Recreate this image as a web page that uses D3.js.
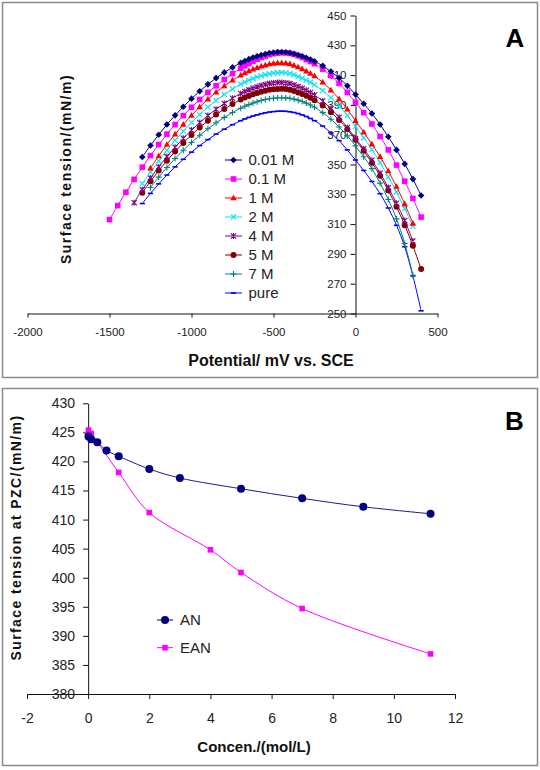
<!DOCTYPE html>
<html><head><meta charset="utf-8">
<script src="https://cdn.jsdelivr.net/npm/d3@7/dist/d3.min.js"></script>
<style>
body{margin:0;background:#fff}
svg{display:block}
text{font-family:"Liberation Sans",Arial,Helvetica,sans-serif}
</style>
</head><body>
<svg id="c" width="540" height="770"></svg>
<script>
// ---------- Panel A data (potential, mV vs SCE) ----------
const potentials = [-1500,-1450,-1400,-1350,-1300,-1250,-1200,-1150,-1100,-1050,-1000,-950,-900,-850,-800,-750,-700,
  -675,-650,-625,-600,-575,-550,-525,-500,-475,-450,-425,-400,-375,-350,-325,-300,-275,-250,
  -200,-150,-100,-50,0,50,100,150,200,250,300,350,400];
const seriesNames = ["0.01 M","0.1 M","1 M","2 M","4 M","5 M","7 M","pure"];
const s001 = [null,null,null,null,355,362.8,370,376.8,383,388.8,394.2,399.2,403.8,408,411.8,415.2,418.2,
  419.5,420.7,421.8,422.7,423.5,424.2,424.8,425.2,425.45,425.5,425.35,425,424.35,423.5,422.65,421.6,420.5,419.2,
  416.2,412.4,408,402.8,397,390.8,384.2,376.8,368.6,359.8,350.4,340.2,329.2];
const s01 = [313,322.4,331.4,340,348.2,356,363.4,370.4,376.8,382.8,388.4,393.6,398.4,402.8,407,411,414.6,
  416.3,417.8,419.3,420.6,421.8,422.8,423.7,424.3,424.75,425,424.9,424.6,423.9,423,421.8,420.4,419.1,417.6,
  414,409.6,404.4,398.4,391.7,384.8,377.2,368.8,359.8,349.6,338.8,327.2,314.7];
const s1 = [null,null,null,null,null,347.6,355.7,363.4,370.3,376.9,383,388.6,393.8,398.5,402.8,406.6,410,
  411.5,412.8,414,415,415.95,416.7,417.4,417.9,418.15,418.2,417.95,417.5,416.55,415.4,414.15,412.7,411.15,409.4,
  405.2,399.9,394,387.1,379.4,371.7,363.7,355.2,345.6,335.2,323.6,310.5,null];
const s2 = [null,null,null,null,337.2,345,352.3,359.6,366.2,372.4,378.2,383.6,388.5,393,397,400.7,403.9,
  405.35,406.6,407.75,408.7,409.6,410.3,410.95,411.4,411.65,411.7,411.5,411.1,410.2,409.1,407.95,406.6,405.15,403.5,
  399.6,394.8,389.3,382.9,375.5,368,360.1,351.3,341.7,331.5,320.4,308.5,null];
const s4 = [null,null,null,324.4,333.1,341,348.4,355.3,361.6,367.6,373.1,378.2,382.9,387.1,391,394.5,397.6,
  398.95,400.1,401.2,402.1,403,403.7,404.3,404.7,404.95,405,404.75,404.3,403.4,402.3,401.15,399.8,398.3,396.6,
  392.6,387.6,381.7,374.8,367.5,360.6,352.8,344.2,334.5,324,312.4,298.6,null];
const s5 = [null,null,null,null,331,338.7,345.9,352.6,358.7,364.5,369.8,374.8,379.3,383.5,387.2,390.6,393.6,
  394.9,396,397.1,398,398.85,399.5,400.1,400.5,400.75,400.8,400.6,400.2,399.4,398.4,397.35,396.1,394.75,393.2,
  389.6,385.1,379.8,373.6,366.6,359.2,351.2,342.4,332.5,321.6,309.3,295.4,279.8];
const s7 = [null,null,null,null,null,334.6,341.5,348,354,359.6,364.8,369.6,374,378,381.6,384.9,387.8,
  389.1,390.2,391.25,392.1,392.95,393.6,394.15,394.5,394.75,394.8,394.7,394.4,393.9,393.2,392.3,391.2,389.9,388.4,
  384.8,380.4,375.2,369.2,362.5,355.2,347.2,337.5,326.5,313.5,297,275.7,null];
const sPure = [null,null,null,null,323.8,330.6,337,342.9,348.4,353.5,358.3,362.7,366.7,370.4,373.7,376.7,379.4,
  380.6,381.6,382.55,383.3,384.1,384.7,385.2,385.5,385.75,385.8,385.7,385.4,384.9,384.2,383.3,382.2,380.9,379.4,
  375.8,371.2,366,359.8,353,346,338.6,330.4,320.8,309.2,294.8,275.2,251.8];
const xTicksA = [-2000,-1500,-1000,-500,0,500];
const yTicksA = [250,270,290,310,330,350,370,390,410,430,450];

// ---------- Panel B data ----------
const concAN = [0.01,0.1,0.3,0.6,1,2,3,5,7,9,11.2];
const gammaAN = [424.3,423.8,423.3,421.9,420.9,418.7,417.15,415.3,413.65,412.2,411.0];
const concEAN = [0.01,0.1,1,2,4,5,7,11.2];
const gammaEAN = [425.4,424.8,418.1,411.2,404.8,400.9,394.7,386.9];
const xTicksB = [-2,0,2,4,6,8,10,12];
const yTicksB = [380,385,390,395,400,405,410,415,420,425,430];

const svg = d3.select("#c");

// frames
svg.append("rect").attr("x",2.5).attr("y",2.5).attr("width",535).attr("height",375)
  .attr("fill","none").attr("stroke","#8a8a8a").attr("stroke-width",1.5);
svg.append("rect").attr("x",2.5).attr("y",388.5).attr("width",535).attr("height",377)
  .attr("fill","none").attr("stroke","#8a8a8a").attr("stroke-width",1.5);

// marker helper
function marker(g, type, color, x, y) {
  switch (type) {
    case "diamond": g.append("path").attr("d",`M${x},${y-3.3}L${x+3.3},${y}L${x},${y+3.3}L${x-3.3},${y}Z`).attr("fill",color); break;
    case "square": g.append("rect").attr("x",x-2.8).attr("y",y-2.8).attr("width",5.6).attr("height",5.6).attr("fill",color); break;
    case "triangle": g.append("path").attr("d",`M${x},${y-3.4}L${x+3.2},${y+2.3}L${x-3.2},${y+2.3}Z`).attr("fill",color); break;
    case "x": g.append("path").attr("d",`M${x-2.6},${y-2.6}L${x+2.6},${y+2.6}M${x-2.6},${y+2.6}L${x+2.6},${y-2.6}`).attr("stroke",color).attr("stroke-width",1.1).attr("fill","none"); break;
    case "star": g.append("path").attr("d",`M${x-2.6},${y-2.6}L${x+2.6},${y+2.6}M${x-2.6},${y+2.6}L${x+2.6},${y-2.6}M${x},${y-3}L${x},${y+3}`).attr("stroke",color).attr("stroke-width",1.1).attr("fill","none"); break;
    case "circle": g.append("circle").attr("cx",x).attr("cy",y).attr("r",3).attr("fill",color); break;
    case "plus": g.append("path").attr("d",`M${x-3},${y}L${x+3},${y}M${x},${y-3}L${x},${y+3}`).attr("stroke",color).attr("stroke-width",1.1).attr("fill","none"); break;
    case "dash": g.append("path").attr("d",`M${x-2.6},${y}L${x+2.6},${y}`).attr("stroke",color).attr("stroke-width",1.6).attr("fill","none"); break;
    case "bigcircle": g.append("circle").attr("cx",x).attr("cy",y).attr("r",4).attr("fill",color); break;
  }
}

function styleAxis(g, fs) {
  g.select(".domain").attr("stroke","#111").attr("stroke-width",1);
  g.selectAll(".tick line").attr("stroke","#111").attr("stroke-width",1);
  g.selectAll(".tick text").attr("font-size",fs).attr("fill","#222");
}

// ================= Panel A =================
const xA = d3.scaleLinear().domain([-2000,500]).range([27.5,437.5]);
const yA = d3.scaleLinear().domain([250,450]).range([313.5,15.5]);
const gA = svg.append("g");

const axXA = gA.append("g").attr("transform",`translate(0,${yA(250)})`)
  .call(d3.axisBottom(xA).tickValues(xTicksA).tickSize(4).tickSizeOuter(0).tickPadding(10).tickFormat(d=>String(d)));
styleAxis(axXA, 11.5);
const axYA = gA.append("g").attr("transform",`translate(${xA(0)},0)`)
  .call(d3.axisLeft(yA).tickValues(yTicksA).tickSize(5).tickSizeOuter(0).tickPadding(4).tickFormat(d=>String(d)));
styleAxis(axYA, 11.5);

const seriesA = [
  {name:seriesNames[0], vals:s001, color:"#000080", m:"diamond"},
  {name:seriesNames[1], vals:s01, color:"#ff00ff", m:"square"},
  {name:seriesNames[2], vals:s1, color:"#ff0000", m:"triangle"},
  {name:seriesNames[3], vals:s2, color:"#00e5ee", m:"x"},
  {name:seriesNames[4], vals:s4, color:"#800080", m:"star"},
  {name:seriesNames[5], vals:s5, color:"#800000", m:"circle"},
  {name:seriesNames[6], vals:s7, color:"#008080", m:"plus"},
  {name:seriesNames[7], vals:sPure, color:"#0000ff", m:"dash"}
];
const lineA = d3.line().x(d=>xA(d[0])).y(d=>yA(d[1])).curve(d3.curveCatmullRom.alpha(0.5));
seriesA.slice().reverse().forEach(s=>{
  const pts = potentials.map((p,i)=>[p, s.vals[i]]).filter(d=>d[1]!=null);
  gA.append("path").attr("d",lineA(pts)).attr("fill","none").attr("stroke",s.color).attr("stroke-width",1);
  const mg = gA.append("g");
  pts.forEach(d=>marker(mg, s.m, s.color, xA(d[0]), yA(d[1])));
});

// legend A
const legA = gA.append("g");
seriesA.forEach((s,i)=>{
  const cy = 160 + i*19;
  legA.append("line").attr("x1",225).attr("x2",242).attr("y1",cy).attr("y2",cy).attr("stroke",s.color).attr("stroke-width",1);
  marker(legA, s.m, s.color, 233.5, cy);
  legA.append("text").attr("x",248.5).attr("y",cy+5.4).attr("font-size",15).attr("fill","#222").text(s.name);
});

// titles A
gA.append("text").attr("x",271).attr("y",366).attr("text-anchor","middle").attr("font-size",16).attr("font-weight","bold").attr("fill","#111").text("Potential/ mV vs. SCE");
gA.append("text").attr("transform","translate(71,169) rotate(-90)").attr("text-anchor","middle").attr("font-size",14).attr("font-weight","bold").attr("letter-spacing","1.5px").attr("fill","#111").text("Surface tension/(mN/m)");
gA.append("text").attr("x",515).attr("y",47).attr("text-anchor","middle").attr("font-size",26).attr("font-weight","bold").attr("fill","#000").text("A");

// ================= Panel B =================
const xB = d3.scaleLinear().domain([-2,12]).range([27,455]);
const yB = d3.scaleLinear().domain([380,430]).range([694,403.3]);
const gB = svg.append("g");

const axXB = gB.append("g").attr("transform",`translate(0,${yB(380)})`)
  .call(d3.axisBottom(xB).tickValues(xTicksB).tickSize(5).tickSizeOuter(0).tickPadding(14).tickFormat(d=>String(d)));
styleAxis(axXB, 14);
const axYB = gB.append("g").attr("transform",`translate(${xB(0)},0)`)
  .call(d3.axisLeft(yB).tickValues(yTicksB).tickSize(5).tickSizeOuter(0).tickPadding(8).tickFormat(d=>String(d)));
styleAxis(axYB, 14);

const lineB = d3.line().x(d=>xB(d[0])).y(d=>yB(d[1])).curve(d3.curveCatmullRom.alpha(0.5));
const ptsAN = concAN.map((c,i)=>[c,gammaAN[i]]);
const ptsEAN = concEAN.map((c,i)=>[c,gammaEAN[i]]);
gB.append("path").attr("d",lineB(ptsEAN)).attr("fill","none").attr("stroke","#ff00ff").attr("stroke-width",1);
gB.append("path").attr("d",lineB(ptsAN)).attr("fill","none").attr("stroke","#1c1c8a").attr("stroke-width",1);
const mEAN = gB.append("g"), mAN = gB.append("g");
ptsEAN.forEach(d=>marker(mEAN,"square","#ff00ff",xB(d[0]),yB(d[1])));
ptsAN.forEach(d=>marker(mAN,"bigcircle","#000080",xB(d[0]),yB(d[1])));

// legend B
const legB = gB.append("g");
[["AN","#000080","bigcircle",620],["EAN","#ff00ff","square",647.7]].forEach(r=>{
  legB.append("line").attr("x1",157).attr("x2",173).attr("y1",r[3]).attr("y2",r[3]).attr("stroke",r[1]).attr("stroke-width",1);
  marker(legB, r[2], r[1], 165, r[3]);
  legB.append("text").attr("x",180).attr("y",r[3]+5.4).attr("font-size",15).attr("fill","#222").text(r[0]);
});

gB.append("text").attr("x",254).attr("y",752).attr("text-anchor","middle").attr("font-size",15).attr("font-weight","bold").attr("fill","#111").text("Concen./(mol/L)");
gB.append("text").attr("transform","translate(21,537.5) rotate(-90)").attr("text-anchor","middle").attr("font-size",14).attr("font-weight","bold").attr("letter-spacing","1.4px").attr("fill","#111").text("Surface tension at PZC/(mN/m)");
gB.append("text").attr("x",514.5).attr("y",430).attr("text-anchor","middle").attr("font-size",26).attr("font-weight","bold").attr("fill","#000").text("B");
</script>
</body></html>
